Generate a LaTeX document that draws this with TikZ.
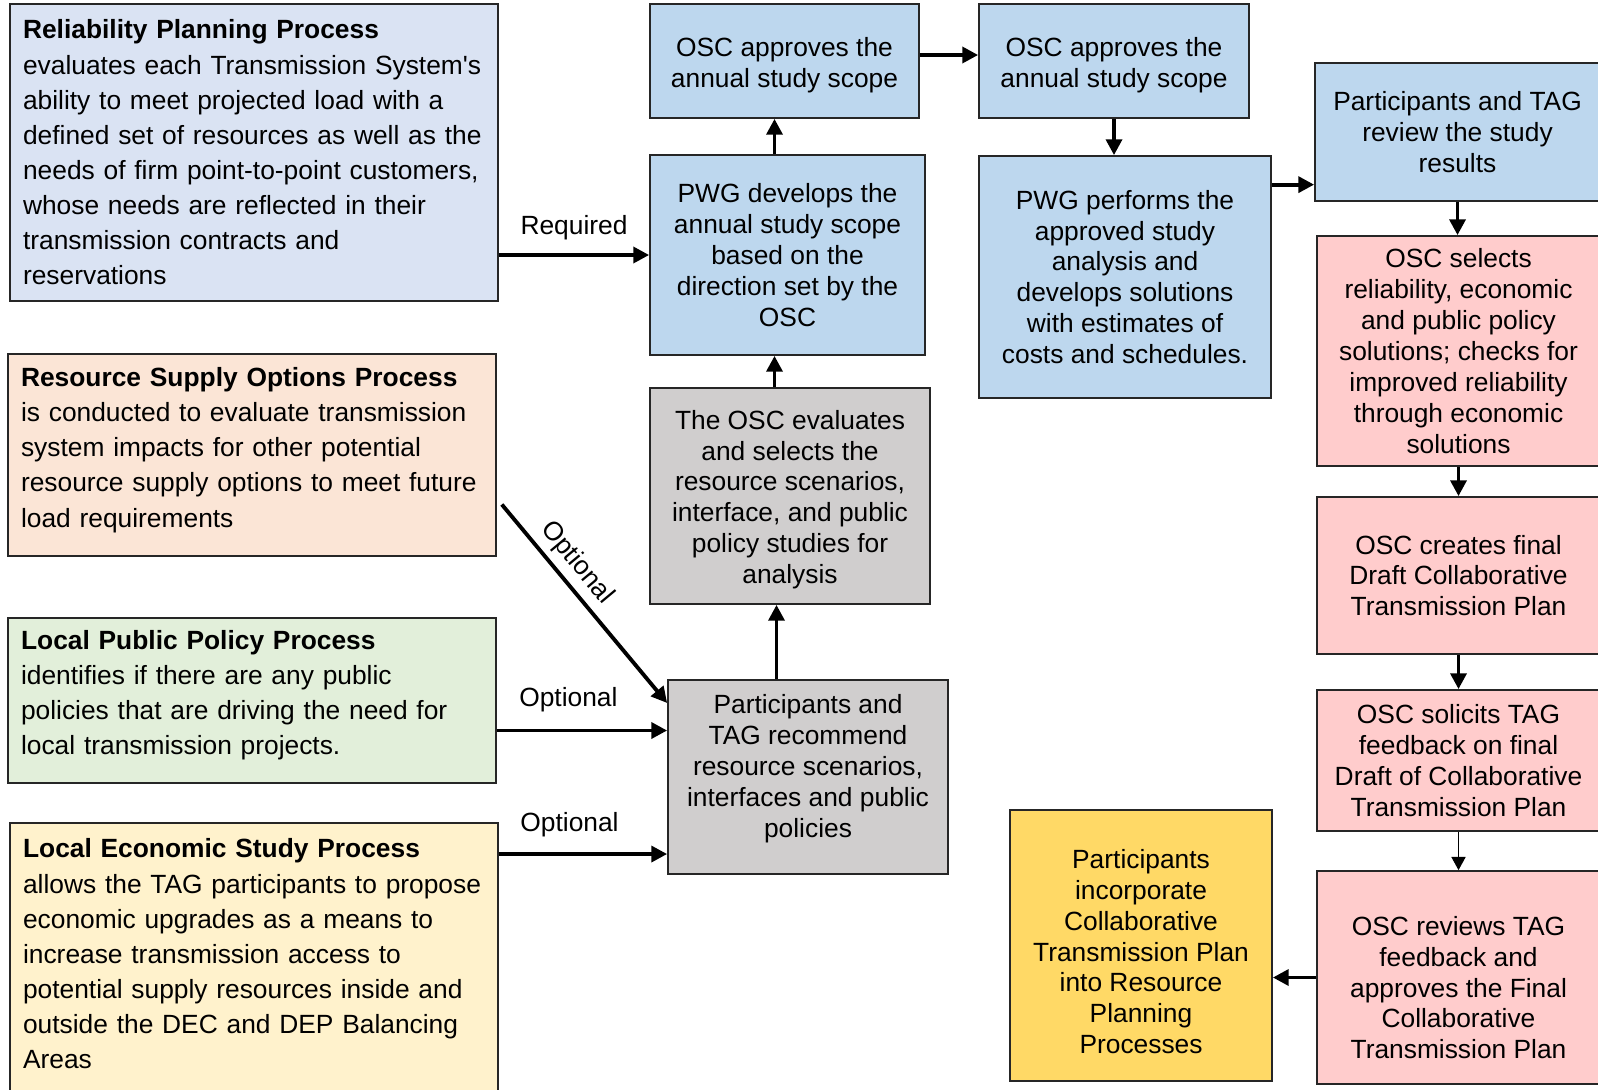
\documentclass[tikz,border=0pt]{standalone}
\usepackage{xcolor}
\usepackage{fontspec}
\setmainfont{Liberation Sans}
\usetikzlibrary{arrows.meta}

\definecolor{relblue}{HTML}{DAE3F3}
\definecolor{peach}{HTML}{FBE5D6}
\definecolor{palegreen}{HTML}{E2EFDA}
\definecolor{cream}{HTML}{FFF2CC}
\definecolor{stepblue}{HTML}{BDD7EE}
\definecolor{stepgray}{HTML}{D0CECE}
\definecolor{steppink}{HTML}{FFCCCC}
\definecolor{gold}{HTML}{FFD966}

% struts to nudge text inside a box
\newcommand{\topgap}[1]{\rule{0pt}{#1}}
\newcommand{\botgap}[1]{\rule[-#1]{0pt}{0pt}}

\begin{document}
\begin{tikzpicture}[x=0.02cm, y=-0.02cm,
    pbox/.style={draw=black!85, line width=1pt, inner xsep=0.26cm, inner ysep=2pt, text width=9.24cm, align=left, font=\fontsize{15}{20}\selectfont},
    sbox/.style={draw=black!85, line width=1pt, inner sep=2pt, align=center, font=\fontsize{15}{17.6}\selectfont},
    flow/.style={line width=2.2pt, -{Triangle[length=9pt, width=9pt]}},
    thinflow/.style={line width=0.8pt, -{Triangle[length=7.5pt, width=8pt]}},
    lbl/.style={font=\fontsize{15}{18}\selectfont}
]
\path[fill=white, use as bounding box] (0,0) rectangle (1598,1089);

% process boxes on the left
\node[pbox, fill=relblue, minimum height=5.94cm] (rel) at (254,152.5) {\textbf{Reliability Planning Process}\\evaluates each Transmission System\textquotesingle s\\ability to meet projected load with a\\defined set of resources as well as the\\needs of firm point-to-point customers,\\whose needs are reflected in their\\transmission contracts and\\reservations};
\node[pbox, fill=peach, minimum height=4.04cm] (res) at (252,455) {\textbf{Resource Supply Options Process}\\is conducted to evaluate transmission\\system impacts for other potential\\resource supply options to meet future\\load requirements\botgap{8.9pt}};
\node[pbox, fill=palegreen, minimum height=3.3cm] (pol) at (252,700.5) {\textbf{Local Public Policy Process}\\identifies if there are any public\\policies that are driving the need for\\local transmission projects.\botgap{8.9pt}};
\node[pbox, fill=cream, minimum height=5.44cm] (eco) at (254,959) {\textbf{Local Economic Study Process}\\allows the TAG participants to propose\\economic upgrades as a means to\\increase transmission access to\\potential supply resources inside and\\outside the DEC and DEP Balancing\\Areas\botgap{6pt}};

% study steps
\node[sbox, fill=stepblue, minimum width=5.38cm, minimum height=2.28cm] (app1) at (784.5,61) {\topgap{15.6pt}OSC approves the\\annual study scope};
\node[sbox, fill=stepblue, minimum width=5.4cm, minimum height=2.28cm] (app2) at (1114,61) {\topgap{15.6pt}OSC approves the\\annual study scope};
\node[sbox, fill=stepblue, minimum width=5.5cm, minimum height=4cm] (dev) at (787.5,255) {PWG develops the\\annual study scope\\based on the\\direction set by the\\OSC};
\node[sbox, fill=stepgray, minimum width=5.6cm, minimum height=4.32cm] (eval) at (790,496) {\topgap{15pt}The OSC evaluates\\and selects the\\resource scenarios,\\interface, and public\\policy studies for\\analysis};
\node[sbox, fill=stepgray, minimum width=5.6cm, minimum height=3.88cm] (rec) at (808,777) {Participants and\\TAG recommend\\resource scenarios,\\interfaces and public\\policies\botgap{12.3pt}};
\node[sbox, fill=stepblue, minimum width=5.84cm, minimum height=4.84cm] (perf) at (1125,277) {PWG performs the\\approved study\\analysis and\\develops solutions\\with estimates of\\costs and schedules.};
\node[sbox, fill=stepblue, minimum width=5.7cm, minimum height=2.76cm] (rev) at (1457.5,132) {Participants and TAG\\review the study\\results};
\node[sbox, fill=steppink, minimum width=5.66cm, minimum height=4.6cm] (sel) at (1458.5,351) {OSC selects\\reliability, economic\\and public policy\\solutions; checks for\\improved reliability\\through economic\\solutions};
\node[sbox, fill=steppink, minimum width=5.66cm, minimum height=3.14cm] (cre) at (1458.5,575.5) {OSC creates final\\Draft Collaborative\\Transmission Plan};
\node[sbox, fill=steppink, minimum width=5.66cm, minimum height=2.82cm] (sol) at (1458.5,760.5) {OSC solicits TAG\\feedback on final\\Draft of Collaborative\\Transmission Plan};
\node[sbox, fill=steppink, minimum width=5.66cm, minimum height=4.26cm] (frev) at (1458.5,977.5) {\topgap{22.4pt}OSC reviews TAG\\feedback and\\approves the Final\\Collaborative\\Transmission Plan};
\node[sbox, fill=gold, minimum width=5.24cm, minimum height=5.42cm] (inc) at (1141,945.5) {\topgap{17.8pt}Participants\\incorporate\\Collaborative\\Transmission Plan\\into Resource\\Planning\\Processes};

% inputs
\draw[flow] (rel.east |- dev.west) -- node[lbl, above=4pt] {Required} (dev.west);
\draw[flow] ([xshift=0.1cm, yshift=-0.99cm]res.east) -- node[lbl, sloped, above=0pt, pos=0.36] {Optional} ([yshift=1.48cm]rec.west);
\draw[flow] ([yshift=-0.6cm]pol.east) -- node[lbl, above=6pt, pos=0.42] {Optional} ([yshift=-0.6cm]pol.east -| rec.west);
\draw[flow] ([yshift=2.1cm]eco.east) -- node[lbl, above=5pt, pos=0.42] {Optional} ([yshift=2.1cm]eco.east -| rec.west);

% flow of the study
\draw[flow] ([xshift=-0.63cm]rec.north) -- ([xshift=-0.63cm]rec.north |- eval.south);
\draw[flow] ([xshift=-0.31cm]eval.north) -- ([xshift=-0.31cm]eval.north |- dev.south);
\draw[flow] ([xshift=-0.26cm]dev.north) -- ([xshift=-0.26cm]dev.north |- app1.south);
\draw[flow] ([yshift=0.12cm]app1.east) -- ([yshift=0.12cm]app1.east -| app2.west);
\draw[flow] (app2.south) -- (app2.south |- perf.north);
\draw[flow] ([yshift=-0.59cm]perf.north east) -- ([yshift=-0.59cm]perf.north east -| rev.west);
\draw[flow] (rev.south) -- (rev.south |- sel.north);
\draw[flow] (sel.south) -- (sel.south |- cre.north);
\draw[flow] (cre.south) -- (cre.south |- sol.north);
\draw[thinflow] (sol.south) -- (sol.south |- frev.north);
\draw[flow] (frev.west) -- (frev.west -| inc.east);
\end{tikzpicture}
\end{document}
